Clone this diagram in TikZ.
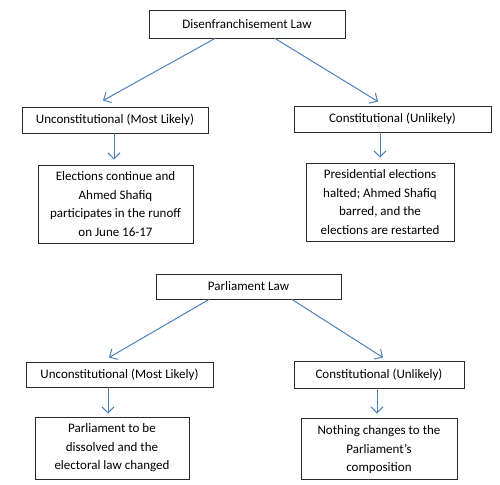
\documentclass[tikz,border=0pt]{standalone}
\usepackage{fontspec}
\setmainfont{Carlito}
\usetikzlibrary{arrows.meta}
\definecolor{arrblue}{RGB}{79,129,189}
\definecolor{boxline}{RGB}{40,40,40}
\tikzset{
  box/.style={draw=boxline, line width=0.9pt, fill=white, inner sep=2pt, align=center,
    font=\fontsize{13}{18.5}\selectfont},
  arr/.style={draw=arrblue, line width=1pt, -{Straight Barb[length=6pt,width=12pt]}}
}
\begin{document}
\begin{tikzpicture}[x=1pt,y=-1pt]
\useasboundingbox (0,0) rectangle (500,484);
\fill[white] (0,0) rectangle (500,484);
% first tree
\node[box, minimum width=196pt, minimum height=28pt] (top) at (247,24) {Disenfranchisement Law};
\node[box, minimum width=186pt, minimum height=26pt] (ul) at (115,120) {Unconstitutional (Most Likely)};
\node[box, minimum width=197pt, minimum height=26pt] (ur) at (392.5,119) {Constitutional (Unlikely)};
\node[box, minimum width=155pt, minimum height=78pt] (ll) at (115.5,204) {Elections continue and\\Ahmed Shafiq\\participates in the runoff\\on June 16-17};
\node[box, minimum width=148pt, minimum height=78pt] (lr) at (380,202) {Presidential elections\\halted; Ahmed Shafiq\\barred, and the\\elections are restarted};
\draw[arr] ([xshift=-32pt]top.south) -- ([xshift=-12pt,yshift=6pt]ul.north);
\draw[arr] ([xshift=28pt]top.south) -- ([xshift=-14.5pt,yshift=4pt]ur.north);
\draw[arr] ([xshift=-1pt]ul.south) -- ([xshift=-1.5pt,yshift=5pt]ll.north);
\draw[arr] ([xshift=-12.5pt]ur.south) -- ([xshift=0pt,yshift=5pt]lr.north);
% second tree
\node[box, minimum width=185pt, minimum height=25pt] (pl) at (248.5,286.5) {Parliament Law};
\node[box, minimum width=187pt, minimum height=25pt] (ul2) at (119.5,374.5) {Unconstitutional (Most Likely)};
\node[box, minimum width=170pt, minimum height=27pt] (ur2) at (379,374.5) {Constitutional (Unlikely)};
\node[box, minimum width=154pt, minimum height=62pt] (ll2) at (112,448) {Parliament to be\\dissolved and the\\electoral law changed};
\node[box, minimum width=156pt, minimum height=61pt, text depth=0pt] (lr2) at (379,448.5) {Nothing changes to the\\Parliament’s\\composition};
\draw[arr] ([xshift=-39.5pt]pl.south) -- ([xshift=-10.5pt,yshift=4pt]ul2.north);
\draw[arr] ([xshift=43.5pt]pl.south) -- ([xshift=4pt,yshift=3pt]ur2.north);
\draw[arr] ([xshift=-11.5pt]ul2.south) -- ([xshift=-4pt,yshift=3pt]ll2.north);
\draw[arr] ([xshift=-2pt]ur2.south) -- ([xshift=-2pt,yshift=4pt]lr2.north);
\end{tikzpicture}
\end{document}
